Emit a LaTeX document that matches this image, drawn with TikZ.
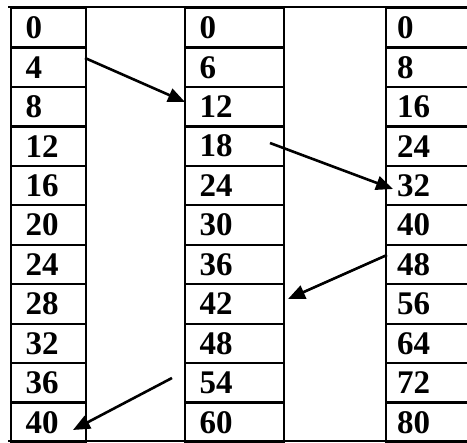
\documentclass[tikz,border=0pt]{standalone}
\usepackage{fontspec}
\setmainfont{Liberation Serif}
\usetikzlibrary{arrows.meta}
\begin{document}
\begin{tikzpicture}[x=1pt,y=-1pt,
  cellbox/.style={draw, line width=2.2pt, rectangle, inner xsep=15pt, inner ysep=0pt,
    minimum height=39.45pt, anchor=north west, align=left,
    font=\fontsize{33}{33}\selectfont\bfseries},
  frameline/.style={line width=2.4pt},
  jump/.style={line width=2.6pt, -{Triangle[length=17pt,width=14pt]}}]
\useasboundingbox (0,0) rectangle (467,443);
\clip (0,0) rectangle (467,443);
% outer frame lines
\draw[frameline] (8,7) -- (470,7);
\draw[frameline] (8,441) -- (470,441);
% columns of cells
\foreach \i in {0,...,10}{
  \pgfmathtruncatemacro{\va}{4*\i}
  \pgfmathtruncatemacro{\vb}{6*\i}
  \pgfmathtruncatemacro{\vc}{8*\i}
  \node[cellbox, minimum width=75pt, text width=46pt, inner xsep=14pt] (a\i) at (10,{7+39.45*\i}) {\va};
  \node[cellbox, minimum width=99pt, text width=70pt, inner xsep=13pt] (b\i) at (184,{7+39.45*\i}) {\vb};
  \node[cellbox, minimum width=100pt, text width=78pt, inner xsep=11pt] (c\i) at (385,{7+39.45*\i}) {\vc};
}
% arrow end points
\coordinate (s1) at (85,58);
\coordinate (t1) at (185,102);
\coordinate (s2) at (270,143);
\coordinate (t2) at (393,189);
\coordinate (s3) at (387,255);
\coordinate (t3) at (288,299);
\coordinate (s4) at (172,378);
\coordinate (t4) at (73,430);
\draw[jump] (s1) -- (t1);
\draw[jump] (s2) -- (t2);
\draw[jump] (s3) -- (t3);
\draw[jump] (s4) -- (t4);
\end{tikzpicture}
\end{document}
